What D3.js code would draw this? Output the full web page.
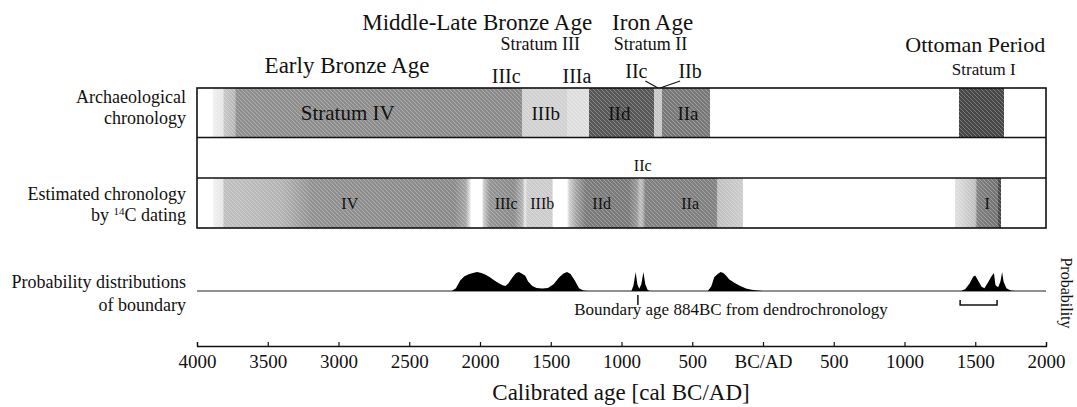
<!DOCTYPE html>
<html lang="en">
<head>
<meta charset="UTF-8">
<script src="https://d3js.org/d3.v7.min.js"></script>
<title>Tel chronology</title>
<style>
    body { margin: 0; background: #fff; }
    svg { display: block; font-family: "Liberation Serif", "Times New Roman", serif; }
    text { fill: #111; }
</style>
</head>
<body>
<div id="fig"></div>
<script>
    // ---------- data ----------
    const tickValues = [-4000, -3500, -3000, -2500, -2000, -1500, -1000, -500, 0, 500, 1000, 1500, 2000];
    const tickLabels = ["4000", "3500", "3000", "2500", "2000", "1500", "1000", "500", "BC/AD", "500", "1000", "1500", "2000"];

    // period headings above the bars: [text, centre year, row]
    const headings = [
        ["Middle-Late Bronze Age", -2020, "top"],
        ["Iron Age", -780, "top"],
        ["Stratum III", -1575, "stratum"],
        ["Stratum II", -795, "stratum"],
        ["Ottoman Period", 1500, "ottoman"],
        ["Early Bronze Age", -2940, "early"],
        ["Stratum I", 1560, "stratumI"],
        ["IIIc", -1815, "sub"],
        ["IIIa", -1315, "sub"],
        ["IIc", -895, "sub2"],
        ["IIb", -515, "sub2"]
    ];

    // darkness along the archaeological chronology bar: [year, darkness 0..1]
    const archShade = [
        [-4000, 0], [-3895, 0], [-3880, 0.07], [-3815, 0.1], [-3810, 0.22], [-3735, 0.28], [-3720, 0.44],
        [-1700, 0.46], [-1700, 0.18], [-1385, 0.18], [-1385, 0.13], [-1230, 0.13], [-1230, 0.66],
        [-770, 0.66], [-770, 0.22], [-714, 0.22], [-714, 0.53], [-375, 0.53], [-375, 0],
        [1385, 0], [1385, 0.72], [1703, 0.72], [1703, 0], [2000, 0]
    ];
    const archLabels = [["Stratum IV", -2935], ["IIIb", -1535], ["IId", -1015], ["IIa", -530]];

    // darkness along the 14C estimated chronology bar
    const c14Shade = [
        [-4000, 0], [-3890, 0], [-3880, 0.06], [-3816, 0.1], [-3810, 0.25], [-3600, 0.27], [-3400, 0.3],
        [-3180, 0.43], [-2180, 0.46], [-2100, 0.35], [-2070, 0.1], [-2060, 0], [-1985, 0], [-1975, 0.2],
        [-1930, 0.42], [-1760, 0.46], [-1700, 0.3], [-1680, 0.08], [-1668, 0.2], [-1490, 0.2], [-1484, 0],
        [-1385, 0], [-1370, 0.18], [-1320, 0.36], [-1250, 0.52], [-950, 0.52], [-890, 0.4], [-870, 0.25],
        [-850, 0.3], [-830, 0.5], [-330, 0.5], [-320, 0.25], [-145, 0.2], [-140, 0],
        [1355, 0], [1360, 0.12], [1500, 0.25], [1515, 0.5], [1660, 0.55], [1665, 0.72], [1680, 0.72], [1685, 0], [2000, 0]
    ];
    const c14Labels = [["IV", -2920], ["IIIc", -1815], ["IIIb", -1560], ["IId", -1140], ["IIa", -515], ["I", 1585]];

    // probability distributions of the boundaries: [year, relative probability]
    const boundaryA = [
        [-2200, 0], [-2170, 0.15], [-2140, 0.55], [-2110, 0.78], [-2080, 0.88], [-2050, 0.95], [-2020, 1.0],
        [-1990, 0.95], [-1960, 0.86], [-1930, 0.72], [-1900, 0.56], [-1870, 0.42], [-1840, 0.3], [-1820, 0.26],
        [-1800, 0.4], [-1770, 0.72], [-1745, 0.95], [-1725, 1.0], [-1700, 0.9], [-1680, 0.8], [-1660, 0.5],
        [-1630, 0.26], [-1600, 0.16], [-1560, 0.13], [-1520, 0.16], [-1480, 0.36], [-1440, 0.72], [-1410, 0.92],
        [-1385, 1.0], [-1360, 0.9], [-1330, 0.55], [-1300, 0.15], [-1270, 0.03], [-1240, 0]
    ];
    const boundaryB = [
        [-930, 0], [-915, 0.3], [-900, 1.0], [-888, 0.35], [-875, 0.12], [-860, 0.35], [-845, 1.0],
        [-832, 0.35], [-815, 0.05], [-800, 0]
    ];
    const boundaryC = [
        [-390, 0], [-365, 0.25], [-345, 0.72], [-320, 0.9], [-300, 1.0], [-280, 0.95], [-260, 0.8], [-240, 0.62],
        [-200, 0.42], [-160, 0.26], [-120, 0.13], [-80, 0.06], [-40, 0.02], [0, 0]
    ];
    const boundaryD = [
        [1400, 0], [1430, 0.1], [1460, 0.4], [1485, 0.75], [1500, 0.82], [1520, 0.55], [1545, 0.22], [1565, 0.15],
        [1590, 0.45], [1615, 0.78], [1632, 0.95], [1643, 0.3], [1662, 0.2], [1678, 0.5], [1690, 1.0],
        [1700, 0.5], [1720, 0.15], [1750, 0.03], [1780, 0]
    ];
    const boundaries = [boundaryA, boundaryB, boundaryC, boundaryD];

    const dendroYear = -884;
    const ottomanRange = [1393, 1654];

    // ---------- drawing ----------
    const width = 1077, height = 407;
    const svg = d3.select("#fig").append("svg")
        .attr("width", width)
        .attr("height", height);

    const x = d3.scaleLinear().domain([-4000, 2000]).range([197, 1046]);
    const shade = d3.scaleLinear().domain([0, 1]).range(["#ffffff", "#000000"]);

    const barTop = 88, rowSplit1 = 137.5, rowSplit2 = 178, barBottom = 228;

    const defs = svg.append("defs");
    function makeGradient(id, stops) {
        const g = defs.append("linearGradient")
            .attr("id", id)
            .attr("gradientUnits", "userSpaceOnUse")
            .attr("x1", x.range()[0]).attr("x2", x.range()[1])
            .attr("y1", 0).attr("y2", 0);
        g.selectAll("stop").data(stops).enter().append("stop")
            .attr("offset", d => (x(d[0]) - x.range()[0]) / (x.range()[1] - x.range()[0]))
            .attr("stop-color", d => shade(d[1]));
    }
    makeGradient("archGrad", archShade);
    makeGradient("c14Grad", c14Shade);

    // fine diagonal hatching like the printed screen
    const hatch = defs.append("pattern")
        .attr("id", "hatch")
        .attr("patternUnits", "userSpaceOnUse")
        .attr("width", 4).attr("height", 4);
    hatch.append("path")
        .attr("d", "M-1,-1 L5,5 M-1,3 L1,5 M3,-1 L5,1")
        .attr("stroke", "#fff")
        .attr("stroke-opacity", 0.28)
        .attr("stroke-width", 1);

    const x0 = x.range()[0], x1 = x.range()[1];

    svg.append("rect").attr("x", x0).attr("y", barTop).attr("width", x1 - x0).attr("height", rowSplit1 - barTop)
        .attr("fill", "url(#archGrad)");
    svg.append("rect").attr("x", x0).attr("y", rowSplit2).attr("width", x1 - x0).attr("height", barBottom - rowSplit2)
        .attr("fill", "url(#c14Grad)");
    [[barTop, rowSplit1], [rowSplit2, barBottom]].forEach(r => {
        svg.append("rect").attr("x", x0).attr("y", r[0]).attr("width", x1 - x0).attr("height", r[1] - r[0])
            .attr("fill", "url(#hatch)");
    });

    // frame
    svg.append("rect").attr("x", x0).attr("y", barTop).attr("width", x1 - x0).attr("height", barBottom - barTop)
        .attr("fill", "none").attr("stroke", "#111").attr("stroke-width", 1.6);
    [rowSplit1, rowSplit2].forEach(yy => {
        svg.append("line").attr("x1", x0).attr("x2", x1).attr("y1", yy).attr("y2", yy)
            .attr("stroke", "#111").attr("stroke-width", 1.6);
    });

    // labels inside the bars
    svg.selectAll(".archLabel").data(archLabels).enter().append("text")
        .attr("class", "archLabel")
        .attr("x", d => x(d[1])).attr("y", 120)
        .attr("text-anchor", "middle")
        .attr("font-size", (d, i) => i === 0 ? 21 : 19)
        .text(d => d[0]);
    svg.selectAll(".c14Label").data(c14Labels).enter().append("text")
        .attr("class", "c14Label")
        .attr("x", d => x(d[1])).attr("y", 209)
        .attr("text-anchor", "middle")
        .attr("font-size", 16)
        .text(d => d[0]);
    svg.append("text").attr("x", x(-850)).attr("y", 171).attr("text-anchor", "middle")
        .attr("font-size", 16).text("IIc");

    // headings
    const rowY = { top: 30, stratum: 50, ottoman: 52, early: 73, stratumI: 75, sub: 83, sub2: 78 };
    const rowSize = { top: 23, stratum: 18, ottoman: 22, early: 23, stratumI: 17, sub: 20, sub2: 20 };
    svg.selectAll(".heading").data(headings).enter().append("text")
        .attr("class", "heading")
        .attr("x", d => x(d[1])).attr("y", d => rowY[d[2]])
        .attr("text-anchor", "middle")
        .attr("font-size", d => rowSize[d[2]])
        .text(d => d[0]);

    // leader lines from IIc / IIb to the thin IIc layer
    const joinX = x(-742);
    svg.append("path")
        .attr("d", `M${x(-895) + 9},81 L${joinX},${barTop} M${x(-515) - 10},81 L${joinX + 2},${barTop}`)
        .attr("fill", "none").attr("stroke", "#111").attr("stroke-width", 1.2);

    // row titles on the left
    const rowTitles = [
        ["Archaeological", 103], ["chronology", 124],
        ["Estimated chronology", 200], ["by ", 221],
        ["Probability distributions", 288], ["of boundary", 311]
    ];
    rowTitles.forEach(t => {
        const txt = svg.append("text").attr("x", 186).attr("y", t[1])
            .attr("text-anchor", "end").attr("font-size", 18);
        if (t[0] === "by ") {
            txt.append("tspan").text("by ");
            txt.append("tspan").attr("font-size", 11).attr("dy", -6).text("14");
            txt.append("tspan").attr("dy", 6).text("C dating");
        } else {
            txt.text(t[0]);
        }
    });

    // probability distributions
    const probBase = 291;
    const py = d3.scaleLinear().domain([0, 1]).range([probBase, probBase - 19]);
    svg.append("line").attr("x1", x0).attr("x2", x1).attr("y1", probBase).attr("y2", probBase)
        .attr("stroke", "#222").attr("stroke-width", 1);
    const area = d3.area()
        .x(d => x(d[0]))
        .y0(probBase)
        .y1(d => py(d[1]));
    svg.selectAll(".dist").data(boundaries).enter().append("path")
        .attr("class", "dist")
        .attr("d", area)
        .attr("fill", "#000");

    // dendro boundary marker
    svg.append("line").attr("x1", x(dendroYear)).attr("x2", x(dendroYear)).attr("y1", 295).attr("y2", 305)
        .attr("stroke", "#111").attr("stroke-width", 1.5);
    svg.append("text").attr("x", 731).attr("y", 315).attr("text-anchor", "middle")
        .attr("font-size", 17).text("Boundary age 884BC from dendrochronology");

    // Ottoman bracket
    svg.append("path")
        .attr("d", `M${x(ottomanRange[0])},300 V305 H${x(ottomanRange[1])} V300`)
        .attr("fill", "none").attr("stroke", "#111").attr("stroke-width", 1.5);

    svg.append("text")
        .attr("transform", "translate(1061,293) rotate(90)")
        .attr("text-anchor", "middle").attr("font-size", 16)
        .text("Probability");

    // axis
    const axis = d3.axisBottom(x)
        .tickValues(tickValues)
        .tickFormat((d, i) => tickLabels[i])
        .tickSizeInner(-4)
        .tickSizeOuter(-4)
        .tickPadding(9);
    const gAxis = svg.append("g").attr("transform", "translate(0,346)").call(axis);
    gAxis.select(".domain").attr("stroke", "#111").attr("stroke-width", 1.3);
    gAxis.selectAll(".tick line").attr("stroke", "#111").attr("stroke-width", 1.2);
    gAxis.selectAll(".tick text")
        .attr("font-family", "Liberation Serif, Times New Roman, serif")
        .attr("font-size", 19).attr("fill", "#111");

    svg.append("text").attr("x", 621).attr("y", 400).attr("text-anchor", "middle")
        .attr("font-size", 23).text("Calibrated age [cal BC/AD]");
</script>
</body>
</html>
